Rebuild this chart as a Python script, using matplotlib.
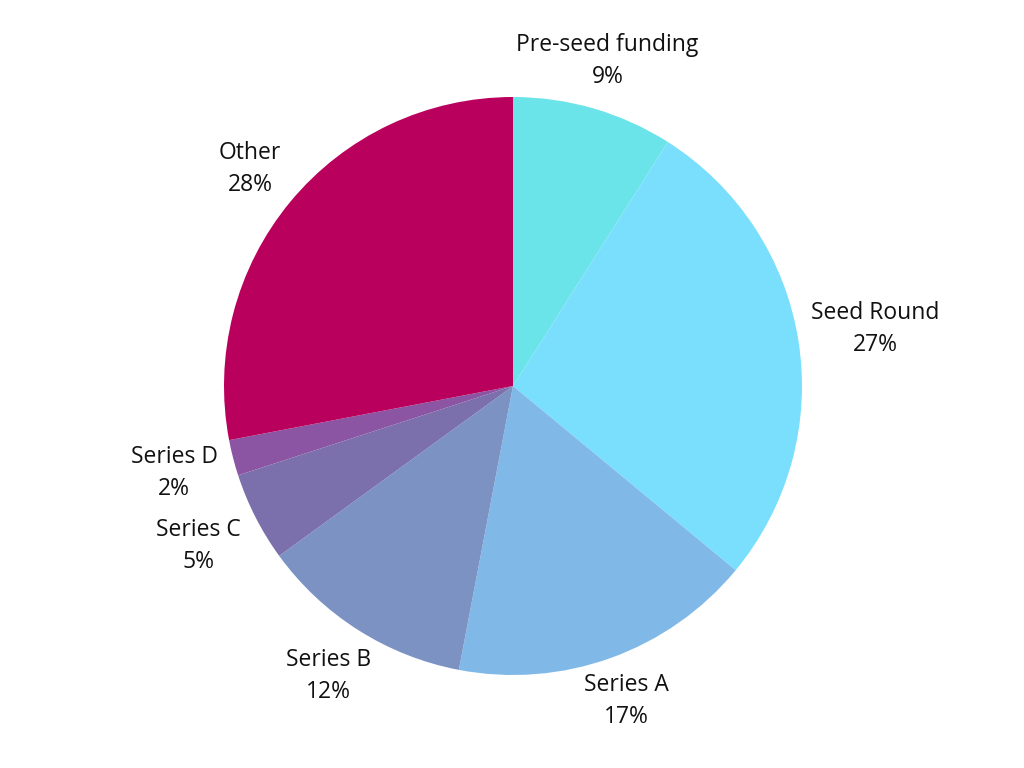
import numpy as np
import matplotlib.pyplot as plt

plt.rcParams['font.family'] = ['Open Sans', 'DejaVu Sans']

labels = ["Pre-seed funding", "Seed Round", "Series A", "Series B",
          "Series C", "Series D", "Other"]
shares = [9, 27, 17, 12, 5, 2, 28]
colors = ["#6be4e9", "#7adffd", "#80b9e8", "#7c92c3",
          "#7b70ab", "#8c55a3", "#ba005d"]
label_dist = [1.17, 1.27, 1.16, 1.19, 1.22, 1.21, 1.18]

fig = plt.figure(figsize=(10.24, 7.68), dpi=100)
ax = fig.add_axes([0, 0, 1, 1])
wedges, _ = ax.pie(shares, colors=colors, startangle=90, counterclock=False,
                   center=(0, 0), radius=1)

total = sum(shares)
for w, lab, v, d in zip(wedges, labels, shares, label_dist):
    ang = np.deg2rad((w.theta1 + w.theta2) / 2)
    ax.text(d * np.cos(ang), d * np.sin(ang), f"{lab}\n{round(100 * v / total)}%",
            ha='center', va='center', fontsize=16.5, linespacing=1.45, color='#111111')

# pie centre at (513, 386) px, radius ~289 px
r = 289
cx, cy = 513, 768 - 386
ax.set_xlim(-cx / r, (1024 - cx) / r)
ax.set_ylim(-cy / r, (768 - cy) / r)
ax.set_aspect('equal')
ax.axis('off')

fig.savefig("out.png", dpi=100, facecolor='white')
